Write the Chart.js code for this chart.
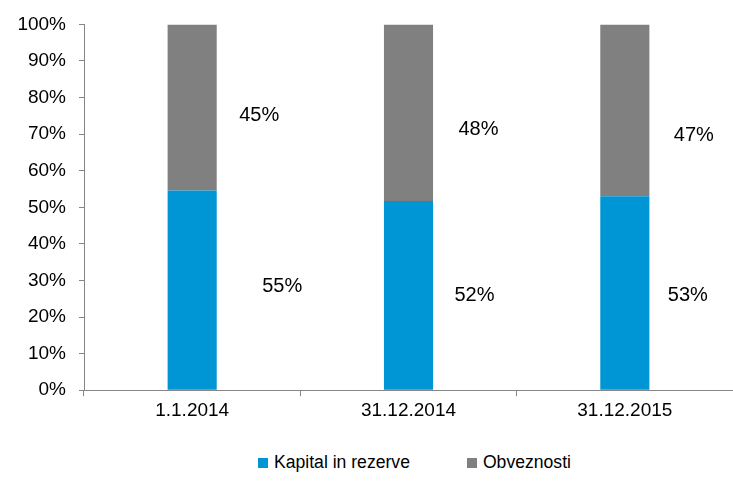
<!DOCTYPE html>
<html>
<head>
<meta charset="utf-8">
<script src="https://cdn.jsdelivr.net/npm/chart.js@4.4.0/dist/chart.umd.min.js"></script>
<style>
  html, body { margin: 0; padding: 0; background: #fff; }
  #wrap { position: relative; width: 733px; height: 500px; font-family: "Liberation Sans", Arial, sans-serif; }
  #box { position: absolute; left: 0; top: 0; width: 733px; height: 429px; }
  #legend { position: absolute; left: 258px; top: 452px; display: flex; gap: 57px; font-size: 17.6px; color: #000; }
  #legend span.item { display: flex; align-items: center; }
  #legend i { display: inline-block; width: 10px; height: 10px; margin-right: 6px; }
</style>
</head>
<body>
<div id="wrap">
  <div id="box"><canvas id="chart"></canvas></div>
  <div id="legend"></div>
</div>
<script>
// --- data ---
const categories = ["1.1.2014", "31.12.2014", "31.12.2015"];
const kapital = [54.6, 51.7, 53.0];
const obveznosti = [45.4, 48.3, 47.0];
const seriesNames = ["Kapital in rezerve", "Obveznosti"];
const seriesColors = ["#0096D6", "#808080"];
const yTicks = [0, 10, 20, 30, 40, 50, 60, 70, 80, 90, 100];

const FONT = "'Liberation Sans', Arial, sans-serif";

// labels sit right of the bars, nudged like in the original
const labelPlugin = {
    id: 'valueLabels',
    afterDatasetsDraw(chart, args, opts) {
        const ctx = chart.ctx;
        ctx.save();
        ctx.font = `20px ${FONT}`;
        ctx.fillStyle = '#000';
        ctx.textAlign = 'center';
        ctx.textBaseline = 'middle';
        chart.data.datasets.forEach((ds, d) => {
            chart.getDatasetMeta(d).data.forEach((bar, i) => {
                const mid = (bar.y + bar.base) / 2;
                ctx.fillText(Math.round(ds.data[i]) + '%', bar.x + opts.dx[d][i], mid + opts.dy[d][i]);
            });
        });
        ctx.restore();
    }
};

const chart = new Chart(document.getElementById('chart'), {
    type: 'bar',
    data: {
        labels: categories,
        datasets: [
            { label: seriesNames[0], data: kapital, backgroundColor: seriesColors[0] },
            { label: seriesNames[1], data: obveznosti, backgroundColor: seriesColors[1] }
        ]
    },
    options: {
        responsive: true,
        maintainAspectRatio: false,
        animation: false,
        categoryPercentage: 1,
        barPercentage: 0.227,
        layout: { padding: { top: 15, right: 0, bottom: 4, left: 0 } },
        plugins: {
            legend: { display: false },
            tooltip: { enabled: false },
            valueLabels: {
                dx: [[90, 66, 63], [67, 70, 69]],
                dy: [[-4, 0, 2], [8, 17, 25]]
            }
        },
        scales: {
            x: {
                stacked: true,
                grid: { drawOnChartArea: false, offset: true, tickLength: 6, color: '#868686' },
                border: { color: '#868686' },
                ticks: { color: '#000', padding: 3, font: { family: FONT, size: 19 } }
            },
            y: {
                stacked: true,
                min: 0,
                max: 100,
                afterBuildTicks: s => { s.ticks = yTicks.map(v => ({ value: v })); },
                afterFit: s => { s.width = 84; },
                grid: { drawOnChartArea: false, tickLength: 5, color: '#868686' },
                border: { color: '#868686' },
                ticks: { color: '#000', padding: 13, font: { family: FONT, size: 19 }, callback: v => v + '%' }
            }
        }
    },
    plugins: [labelPlugin]
});

// simple html legend
document.getElementById('legend').innerHTML = chart.data.datasets
    .map(ds => `<span class="item"><i style="background:${ds.backgroundColor}"></i>${ds.label}</span>`)
    .join('');
</script>
</body>
</html>
